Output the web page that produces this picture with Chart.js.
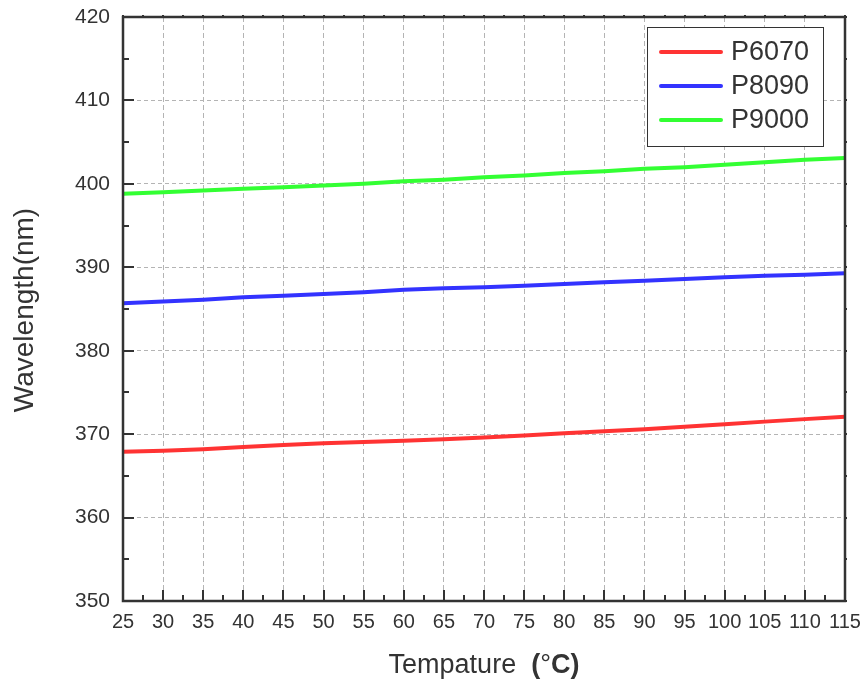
<!DOCTYPE html>
<html>
<head>
<meta charset="utf-8">
<script src="https://cdn.jsdelivr.net/npm/chart.js@4/dist/chart.umd.min.js"></script>
<style>
  html,body{margin:0;padding:0;background:#fff;}
  #wrap{width:866px;height:685px;position:relative;}
</style>
</head>
<body>
<div id="wrap"><canvas id="c" width="866" height="685"></canvas></div>
<script>
// ---- data ----
const temps = [25,30,35,40,45,50,55,60,65,70,75,80,85,90,95,100,105,110,115];
const p6070 = [367.9,368.0,368.2,368.45,368.7,368.9,369.05,369.2,369.4,369.6,369.85,370.1,370.35,370.6,370.9,371.2,371.5,371.8,372.1];
const p8090 = [385.7,385.9,386.1,386.4,386.6,386.8,387.0,387.3,387.5,387.6,387.8,388.0,388.2,388.4,388.6,388.8,389.0,389.1,389.3];
const p9000 = [398.8,399.0,399.2,399.4,399.6,399.8,400.0,400.3,400.5,400.8,401.0,401.3,401.5,401.8,402.0,402.3,402.6,402.9,403.1];
const seriesNames = ['P6070','P8090','P9000'];
const seriesColors = ['#ff3333','#3333ff','#33ff33'];
const xTitle = 'Tempature  (°C)';
const yTitle = 'Wavelength(nm)';
const xMin = 25, xMax = 115, xStep = 5;
const yMin = 350, yMax = 420, yStep = 10;

const FONT = "'Liberation Sans', Arial, Helvetica, sans-serif";
const INK = '#333333';

function pts(ys){ return temps.map((t,i)=>({x:t,y:ys[i]})); }

const frameTicks = {
  id:'frameTicks',
  afterDatasetsDraw(chart){
    const {ctx, chartArea:a, scales:{x,y}} = chart;
    ctx.save();
    ctx.strokeStyle = INK;
    ctx.lineWidth = 2;
    ctx.beginPath();
    for(let v=xMin; v<=xMax+1e-9; v+=xStep/2){
      const px = Math.round(x.getPixelForValue(v));
      const major = Math.abs((v-xMin)/xStep - Math.round((v-xMin)/xStep))<1e-6;
      const len = major?11:6;
      ctx.moveTo(px,a.bottom); ctx.lineTo(px,a.bottom-len);
      ctx.moveTo(px,a.top); ctx.lineTo(px,a.top-2);
    }
    for(let v=yMin; v<=yMax+1e-9; v+=yStep/2){
      const py = Math.round(y.getPixelForValue(v));
      const major = Math.abs((v-yMin)/yStep - Math.round((v-yMin)/yStep))<1e-6;
      const len = major?11:6;
      ctx.moveTo(a.left,py); ctx.lineTo(a.left+len,py);
      ctx.moveTo(a.right,py); ctx.lineTo(a.right+2,py);
    }
    ctx.stroke();
    ctx.lineWidth = 2.5;
    ctx.strokeRect(a.left, a.top, a.right-a.left, a.bottom-a.top);
    ctx.restore();
  },
  afterDraw(chart){
    const {ctx, chartArea:a} = chart;
    ctx.save();
    // legend
    const lx=647, ly=27, lw=176, lh=119;
    ctx.fillStyle='#fff';
    ctx.fillRect(lx,ly,lw,lh);
    ctx.strokeStyle=INK; ctx.lineWidth=1;
    ctx.strokeRect(lx+0.5,ly+0.5,lw,lh);
    chart.data.datasets.forEach((ds,i)=>{
      const ry = 52 + i*34;
      ctx.strokeStyle = ds.borderColor; ctx.lineWidth=4; ctx.lineCap='round';
      ctx.beginPath(); ctx.moveTo(661,ry); ctx.lineTo(721,ry); ctx.stroke();
      ctx.fillStyle=INK; ctx.font = `27px ${FONT}`;
      ctx.textBaseline='middle'; ctx.textAlign='left';
      ctx.fillText(ds.label, 731, ry+1);
    });
    // y title
    ctx.fillStyle=INK;
    ctx.save();
    ctx.translate(25, 310);
    ctx.rotate(-Math.PI/2);
    ctx.font = `28px ${FONT}`;
    ctx.textAlign='center'; ctx.textBaseline='middle';
    ctx.fillText(yTitle,0,0);
    ctx.restore();
    // x title with mixed weights
    const base = xTitle.slice(0, xTitle.indexOf('('));
    const partsT = [[base,false],['(',true],['°',false],['C)',true]];
    let total=0;
    partsT.forEach(([t,b])=>{ ctx.font = `${b?'bold ':''}27px ${FONT}`; total += ctx.measureText(t).width; });
    let cx = (a.left+a.right)/2 - total/2;
    ctx.textBaseline='alphabetic'; ctx.textAlign='left';
    partsT.forEach(([t,b])=>{ ctx.font = `${b?'bold ':''}27px ${FONT}`; ctx.fillText(t,cx,673); cx += ctx.measureText(t).width; });
    ctx.restore();
  }
};

new Chart(document.getElementById('c'), {
  type:'line',
  data:{
    datasets: [p6070,p8090,p9000].map((ys,i)=>({
      label: seriesNames[i],
      data: pts(ys),
      borderColor: seriesColors[i],
      backgroundColor: seriesColors[i],
      borderWidth: 4,
      pointRadius: 0,
      tension: 0,
      fill:false
    }))
  },
  options:{
    responsive:false,
    animation:false,
    devicePixelRatio:1,
    layout:{padding:{left:0,right:21,top:17,bottom:0}},
    plugins:{legend:{display:false}, tooltip:{enabled:false}},
    scales:{
      x:{
        type:'linear', min:xMin, max:xMax,
        ticks:{stepSize:xStep, autoSkip:false, maxRotation:0, minRotation:0,
               font:{size:20, family:FONT}, color:INK, padding:1},
        grid:{color:'#b4b4b4', lineWidth:1, drawTicks:true, tickLength:8, tickColor:'rgba(0,0,0,0)'},
        border:{display:false, dash:[5,3]},
        afterFit(s){ s.height = 84; }
      },
      y:{
        type:'linear', min:yMin, max:yMax,
        ticks:{stepSize:yStep, font:{size:21, family:FONT}, color:INK, padding:1},
        grid:{color:'#b4b4b4', lineWidth:1, drawTicks:true, tickLength:12, tickColor:'rgba(0,0,0,0)'},
        border:{display:false, dash:[4,3]},
        afterFit(s){ s.width = 123; }
      }
    }
  },
  plugins:[frameTicks]
});
</script>
</body>
</html>
